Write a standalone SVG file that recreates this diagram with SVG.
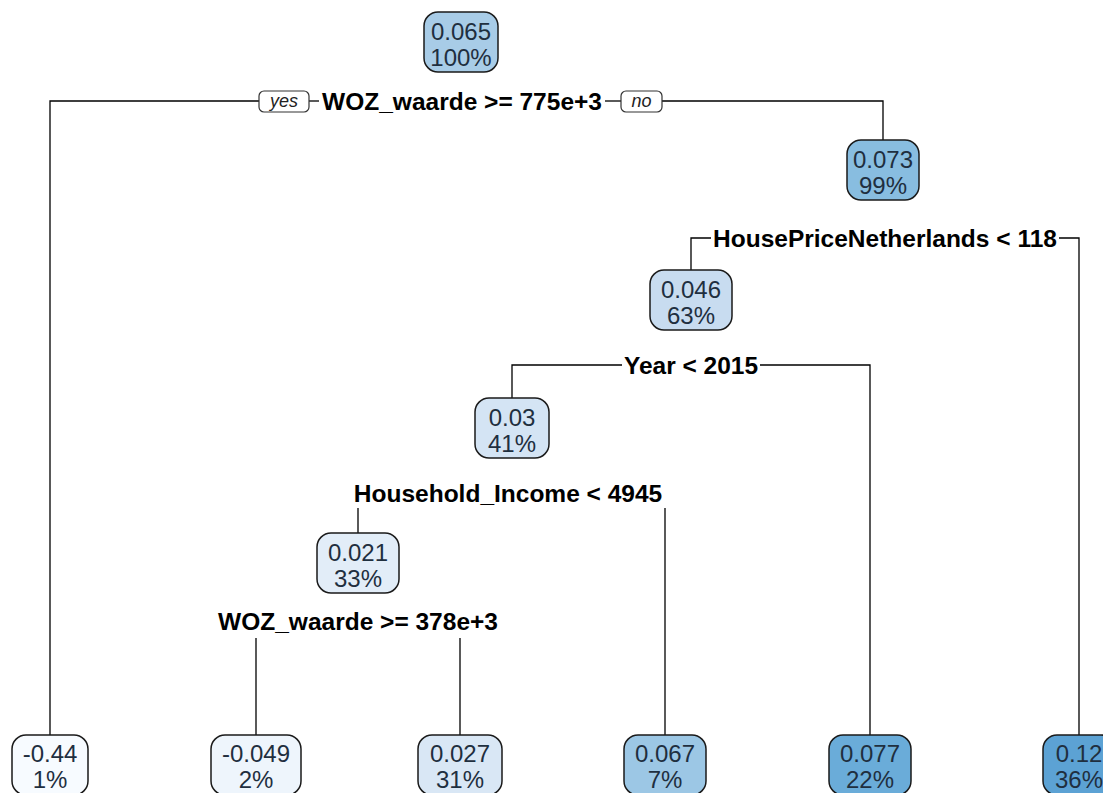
<svg xmlns="http://www.w3.org/2000/svg" width="1103" height="793" viewBox="0 0 1103 793">
<style>
.bg{fill:#ffffff}
.box{stroke:#1a1a1a;stroke-width:1.5}
.nt{font-family:"Liberation Sans",Arial,sans-serif;font-size:24px;fill:#1f2f3f;text-anchor:middle}
.sp{font-family:"Liberation Sans",Arial,sans-serif;font-size:24.5px;font-weight:bold;fill:#000;text-anchor:middle}
.yn{font-family:"Liberation Sans",Arial,sans-serif;font-size:18px;font-style:italic;fill:#222;text-anchor:middle}
.ynb{fill:#fff;stroke:#333;stroke-width:1.2}
.ln{fill:none;stroke:#000;stroke-width:1.3}
</style>
<rect class="bg" x="0" y="0" width="1103" height="793"/>
<g id="connectors">
<polyline class="ln" points="259,101 50,101 50,735"/>
<line class="ln" x1="309" y1="101" x2="319" y2="101"/>
<line class="ln" x1="605" y1="101" x2="621" y2="101"/>
<polyline class="ln" points="711,238 691,238 691,270"/>
<polyline class="ln" points="1059,238 1079,238 1079,735"/>
<polyline class="ln" points="662,101 883,101 883,140"/>
<polyline class="ln" points="622,365 512,365 512,398"/>
<polyline class="ln" points="760,365 870,365 870,735"/>
<line class="ln" x1="358" y1="508" x2="358" y2="533"/>
<line class="ln" x1="665" y1="508" x2="665" y2="735"/>
<line class="ln" x1="256" y1="638" x2="256" y2="735"/>
<line class="ln" x1="460" y1="638" x2="460" y2="735"/>
</g>
<g id="yes-label"><rect class="ynb" x="259" y="91" width="50" height="21" rx="5"/><text class="yn" x="284" y="107">yes</text></g>
<g id="no-label"><rect class="ynb" x="621" y="91" width="41" height="21" rx="5"/><text class="yn" x="641.500" y="107">no</text></g>
<g id="split-1"><text class="sp" x="462" y="110">WOZ_waarde &gt;= 775e+3</text></g>
<g id="split-2"><text class="sp" x="885" y="247">HousePriceNetherlands &lt; 118</text></g>
<g id="split-3"><text class="sp" x="691" y="374">Year &lt; 2015</text></g>
<g id="split-4"><text class="sp" x="508" y="502">Household_Income &lt; 4945</text></g>
<g id="split-5"><text class="sp" x="358" y="630">WOZ_waarde &gt;= 378e+3</text></g>
<g id="node-root"><rect class="box" x="424" y="12" width="74" height="60" rx="14" fill="#A8CCE7"/><text class="nt" x="461" y="40">0.065</text><text class="nt" x="461" y="66">100%</text></g>
<g id="node-2"><rect class="box" x="847" y="140" width="72" height="60" rx="14" fill="#88BDE0"/><text class="nt" x="883" y="168">0.073</text><text class="nt" x="883" y="194">99%</text></g>
<g id="node-3"><rect class="box" x="650" y="270" width="82" height="60" rx="14" fill="#C8DCF0"/><text class="nt" x="691" y="298">0.046</text><text class="nt" x="691" y="324">63%</text></g>
<g id="node-4"><rect class="box" x="475" y="398" width="74" height="60" rx="14" fill="#D4E4F4"/><text class="nt" x="512" y="426">0.03</text><text class="nt" x="512" y="452">41%</text></g>
<g id="node-5"><rect class="box" x="317" y="533" width="82" height="60" rx="14" fill="#E2EDF8"/><text class="nt" x="358" y="561">0.021</text><text class="nt" x="358" y="587">33%</text></g>
<g id="leaf-1"><rect class="box" x="12" y="735" width="76" height="60" rx="14" fill="#F7FBFF"/><text class="nt" x="50" y="762">-0.44</text><text class="nt" x="50" y="788">1%</text></g>
<g id="leaf-2"><rect class="box" x="211" y="735" width="90" height="60" rx="14" fill="#EEF5FC"/><text class="nt" x="256" y="762">-0.049</text><text class="nt" x="256" y="788">2%</text></g>
<g id="leaf-3"><rect class="box" x="418" y="735" width="84" height="60" rx="14" fill="#D9E7F5"/><text class="nt" x="460" y="762">0.027</text><text class="nt" x="460" y="788">31%</text></g>
<g id="leaf-4"><rect class="box" x="624" y="735" width="82" height="60" rx="14" fill="#9CC7E5"/><text class="nt" x="665" y="762">0.067</text><text class="nt" x="665" y="788">7%</text></g>
<g id="leaf-5"><rect class="box" x="829" y="735" width="82" height="60" rx="14" fill="#6AACD9"/><text class="nt" x="870" y="762">0.077</text><text class="nt" x="870" y="788">22%</text></g>
<g id="leaf-6"><rect class="box" x="1043" y="735" width="72" height="60" rx="14" fill="#5CA2D4"/><text class="nt" x="1079" y="762">0.12</text><text class="nt" x="1079" y="788">36%</text></g>
</svg>
